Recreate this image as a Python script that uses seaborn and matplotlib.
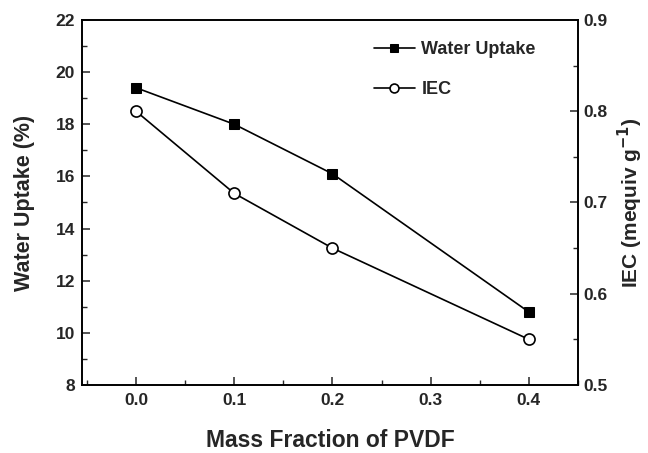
import matplotlib
matplotlib.use("Agg")
import matplotlib.pyplot as plt
from matplotlib.ticker import MultipleLocator
import seaborn as sns
import pandas as pd

# PVDF mass fraction and measured membrane properties
pvdf_fraction = [0.0, 0.1, 0.2, 0.4]
water_uptake = [19.4, 18.0, 16.1, 10.8]   # %
iec = [0.80, 0.71, 0.65, 0.55]            # meq/g

sns.set_style("ticks")
plt.rcParams["font.family"] = ["Liberation Sans", "DejaVu Sans"]
plt.rcParams["font.weight"] = "bold"
plt.rcParams["axes.linewidth"] = 1.2

df = pd.DataFrame({"pvdf": pvdf_fraction, "wu": water_uptake, "iec": iec})

fig = plt.figure(figsize=(6.48, 4.53), dpi=100)
ax = fig.add_axes([0.1265, 0.150, 0.7655, 0.806])
ax2 = ax.twinx()

sns.lineplot(data=df, x="pvdf", y="wu", ax=ax, color="black", lw=1.2,
             marker="s", markersize=7, markerfacecolor="black",
             markeredgecolor="black", label="Water Uptake", legend=False)
sns.lineplot(data=df, x="pvdf", y="iec", ax=ax2, color="black", lw=1.2,
             marker="o", markersize=8, markerfacecolor="white",
             markeredgecolor="black", markeredgewidth=1.2, label="IEC",
             legend=False)

ax.set_xlim(-0.055, 0.45)
ax.set_ylim(8, 22)
ax2.set_ylim(0.5, 0.9)

ax.xaxis.set_major_locator(MultipleLocator(0.1))
ax.xaxis.set_minor_locator(MultipleLocator(0.05))
ax.yaxis.set_major_locator(MultipleLocator(2))
ax.yaxis.set_minor_locator(MultipleLocator(1))
ax2.yaxis.set_major_locator(MultipleLocator(0.1))
ax2.yaxis.set_minor_locator(MultipleLocator(0.05))
ax.xaxis.set_major_formatter(plt.FuncFormatter(lambda v, p: f"{v:.1f}"))
ax2.yaxis.set_major_formatter(plt.FuncFormatter(lambda v, p: f"{v:.1f}"))

for a in (ax, ax2):
    a.tick_params(which="major", direction="in", length=6, width=1.1,
                  labelsize=12.5)
    a.tick_params(which="minor", direction="in", length=3.5, width=1.0)
    for s in a.spines.values():
        s.set_visible(True)
        s.set_linewidth(1.2)
        s.set_color("black")
ax.tick_params(axis="y", which="both", left=True, right=False, pad=5)
ax.tick_params(axis="x", which="both", bottom=True, top=False, pad=6)
ax2.tick_params(axis="y", which="both", right=True, left=False, pad=4)

ax.set_xlabel("Mass Fraction of PVDF", fontsize=16.5, fontweight="bold")
ax.set_ylabel("Water Uptake (%)", fontsize=15.5, fontweight="bold")
ax2.set_ylabel(r"IEC (mequiv g$^{\mathbf{-1}}$)", fontsize=15,
               fontweight="bold")
ax.xaxis.set_label_coords(0.5, -0.121)
ax.yaxis.set_label_coords(-0.094, 0.5)
ax2.yaxis.set_label_coords(1.077, 0.5)

h1, l1 = ax.get_legend_handles_labels()
h2, l2 = ax2.get_legend_handles_labels()
leg = ax2.legend(h1 + h2, l1 + l2, loc="upper left", frameon=False,
                 fontsize=13, handlelength=2.3, handletextpad=0.35,
                 labelspacing=1.25, borderpad=0, borderaxespad=0,
                 bbox_to_anchor=(0.588, 0.941), markerscale=0.8)
for t in leg.get_texts():
    t.set_fontweight("bold")

fig.savefig("out.png", dpi=100)
